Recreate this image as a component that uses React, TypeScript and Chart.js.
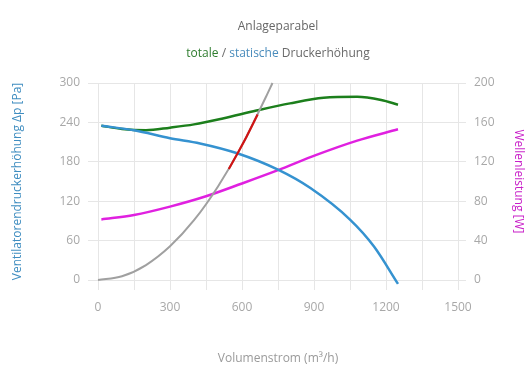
import React, { useEffect, useRef } from 'react';
import { Chart, registerables } from 'chart.js';

Chart.register(...registerables);

// Volumenstrom (m³/h) / Druck (Pa) / Leistung (W)
const staticQ = [14, 150, 300, 425, 580, 750, 885, 1050, 1150, 1250];
const staticP = [235, 228, 216, 208, 193, 168, 140, 92, 51, -6];
const totalQ = [14, 100, 200, 300, 400, 520, 660, 800, 940, 1080, 1180, 1250];
const totalP = [235, 230, 228, 232, 237, 246, 258, 269, 277.5, 279, 274, 267];
const powerQ = [14, 150, 300, 450, 600, 750, 910, 1080, 1250];
const powerW = [61.5, 66, 74.5, 85, 98, 111.5, 127, 141.5, 153];
const systemQ = [0, 100, 200, 300, 400, 500, 600, 700, 727];
const systemP = [0, 5.7, 22.8, 51.3, 91, 142.5, 205, 279, 300];
const rangeQ = [545, 580, 620, 665];
const rangeP = [169, 192, 219, 252];

const xTicks = [0, 300, 600, 900, 1200, 1500];

const FONT = "'Open Sans', 'DejaVu Sans', sans-serif";
const TICK_COLOR = '#a8a8a8';
const GRID_COLOR = '#e6e6e6';
const GREEN = '#1c7f1c';
const BLUE = '#3592d0';
const MAGENTA = '#e020e0';
const GRAY = '#a0a0a0';
const RED = '#d01414';

const subtitleParts = [
  { text: 'totale', color: '#2f7d2f' },
  { text: ' / ', color: '#6a6a6a' },
  { text: 'statische', color: '#4a8cbc' },
  { text: ' Druckerhöhung', color: '#6a6a6a' },
];

const toPoints = (xs: number[], ys: number[]) => xs.map((x, i) => ({ x, y: ys[i] }));

const subtitlePlugin = {
  id: 'multiColorSubtitle',
  afterDraw(chart: any) {
    const { ctx, chartArea } = chart;
    ctx.save();
    ctx.font = `12px ${FONT}`;
    ctx.textBaseline = 'middle';
    ctx.textAlign = 'left';
    const widths = subtitleParts.map((p) => ctx.measureText(p.text).width);
    const total = widths.reduce((a, b) => a + b, 0);
    let x = (chartArea.left + chartArea.right) / 2 - total / 2;
    const y = chartArea.top - 29;
    subtitleParts.forEach((p, i) => {
      ctx.fillStyle = p.color;
      ctx.fillText(p.text, x, y);
      x += widths[i];
    });
    ctx.restore();
  },
};

export default function App() {
  const ref = useRef<HTMLCanvasElement | null>(null);

  useEffect(() => {
    document.body.style.margin = '0';
    if (!ref.current) return;
    const lineBase = {
      pointRadius: 0,
      pointHoverRadius: 0,
      fill: false,
      cubicInterpolationMode: 'monotone' as const,
      clip: 8,
    };
    // Chart.js draws dataset 0 last (on top)
    const chart = new Chart(ref.current, {
      type: 'line',
      data: {
        datasets: [
          { ...lineBase, label: 'Betriebsbereich', data: toPoints(rangeQ, rangeP), borderColor: RED, borderWidth: 2.2, yAxisID: 'y' },
          { ...lineBase, label: 'Anlageparabel', data: toPoints(systemQ, systemP), borderColor: GRAY, borderWidth: 2, yAxisID: 'y' },
          { ...lineBase, label: 'statische Druckerhöhung', data: toPoints(staticQ, staticP), borderColor: BLUE, borderWidth: 2.5, yAxisID: 'y' },
          { ...lineBase, label: 'totale Druckerhöhung', data: toPoints(totalQ, totalP), borderColor: GREEN, borderWidth: 2.5, yAxisID: 'y' },
          { ...lineBase, label: 'Wellenleistung', data: toPoints(powerQ, powerW), borderColor: MAGENTA, borderWidth: 2.5, yAxisID: 'y1' },
        ],
      },
      options: {
        responsive: false,
        animation: false,
        devicePixelRatio: 1,
        layout: { padding: 0 },
        plugins: {
          legend: { display: false },
          tooltip: { enabled: false },
          title: {
            display: true,
            text: 'Anlageparabel',
            fullSize: false,
            color: '#666666',
            font: { family: FONT, size: 12, weight: 'normal' },
            padding: { top: 19, bottom: 49.6 },
          },
        },
        scales: {
          x: {
            type: 'linear',
            min: 0,
            max: 1500,
            afterFit: (s: any) => { s.height = 110; },
            ticks: {
              stepSize: 150,
              autoSkip: false,
              maxRotation: 0,
              padding: 10,
              color: TICK_COLOR,
              font: { family: FONT, size: 12 },
              callback: (v: any) => (xTicks.includes(Number(v)) ? String(v) : ''),
            },
            grid: { color: GRID_COLOR, tickLength: 10 },
            border: { color: GRID_COLOR },
            title: {
              display: true,
              text: 'Volumenstrom (m³/h)',
              color: '#9a9a9a',
              font: { family: FONT, size: 12 },
              padding: { top: 0, bottom: 24 },
            },
          },
          y: {
            type: 'linear',
            position: 'left',
            min: 0,
            max: 300,
            afterFit: (s: any) => { s.width = 98; },
            ticks: { stepSize: 60, padding: 8, color: TICK_COLOR, font: { family: FONT, size: 12 } },
            grid: { color: GRID_COLOR, tickLength: 10 },
            border: { color: GRID_COLOR },
            title: {
              display: true,
              text: 'Ventilatorendruckerhöhung Δp [Pa]',
              color: '#3f8dc0',
              font: { family: FONT, size: 12 },
              padding: { top: 10, bottom: 0 },
            },
          },
          y1: {
            type: 'linear',
            position: 'right',
            min: 0,
            max: 200,
            afterFit: (s: any) => { s.width = 72; },
            ticks: { stepSize: 40, padding: 8, color: TICK_COLOR, font: { family: FONT, size: 12 } },
            grid: { color: GRID_COLOR, tickLength: 8, drawOnChartArea: false },
            border: { color: GRID_COLOR },
            title: {
              display: true,
              text: 'Wellenleistung [W]',
              color: '#c81ec8',
              font: { family: FONT, size: 12 },
              padding: { top: 4, bottom: 0 },
            },
          },
        },
      },
      plugins: [subtitlePlugin],
    });
    return () => chart.destroy();
  }, []);

  return (
    <div style={{ width: 530, height: 390, background: '#ffffff' }}>
      <canvas ref={ref} width={530} height={390} />
    </div>
  );
}
